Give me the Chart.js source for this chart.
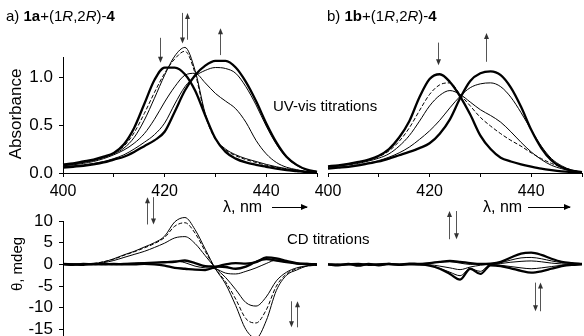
<!DOCTYPE html>
<html>
<head>
<meta charset="utf-8">
<script src="https://cdn.jsdelivr.net/npm/chart.js@4.4.0/dist/chart.umd.min.js"></script>
<style>
  body { margin: 0; background: #fff; }
  #wrap { position: relative; width: 584px; height: 336px; overflow: hidden; font-family: Arial, "Liberation Sans", sans-serif; }
  #wrap canvas { position: absolute; left: 0; top: 0; }
  .lbl { position: absolute; font-size: 15px; color: #000; white-space: nowrap; line-height: 1; }
  .rot { transform: translate(-50%, -50%) rotate(-90deg); }
  .arr { position: absolute; height: 1px; background: #000; }
  .arr:after { content: ""; position: absolute; right: -1px; top: -3px; border-left: 7px solid #000; border-top: 3.5px solid transparent; border-bottom: 3.5px solid transparent; }
</style>
</head>
<body>
<div id="wrap">
  <canvas id="uv_a" width="584" height="336"></canvas>
  <canvas id="uv_b" width="584" height="336"></canvas>
  <canvas id="cd_a" width="584" height="336"></canvas>
  <canvas id="cd_b" width="584" height="336"></canvas>

  <div class="lbl" style="left:6px;top:8px">a) <b>1a</b>+(1<i>R</i>,2<i>R</i>)-<b>4</b></div>
  <div class="lbl" style="left:327px;top:8px">b) <b>1b</b>+(1<i>R</i>,2<i>R</i>)-<b>4</b></div>
  <div class="lbl" style="left:273px;top:98px">UV-vis titrations</div>
  <div class="lbl" style="left:287px;top:231px">CD titrations</div>
  <div class="lbl" style="left:223px;top:199px;font-size:16px">λ, nm</div>
  <div class="arr" style="left:272px;top:207px;width:35px"></div>
  <div class="lbl" style="left:483px;top:199px;font-size:16px">λ, nm</div>
  <div class="arr" style="left:528px;top:207px;width:42px"></div>
  <div class="lbl rot" style="left:15px;top:114px;font-size:17px">Absorbance</div>
  <div class="lbl rot" style="left:16px;top:264px;font-size:15px">θ, mdeg</div>
</div>

<script>
// wavelengths, nm
const wl = [400, 402, 404, 406, 408, 410, 412, 414, 416, 418, 420, 422, 424, 426, 428, 430, 432, 434, 436, 438, 440, 442, 444, 446, 448, 450]

// a) UV-vis absorbance
const uvA1 = [0.09, 0.10, 0.12, 0.14, 0.17, 0.21, 0.30, 0.47, 0.72, 0.97, 1.10, 1.10, 1.03, 0.86, 0.60, 0.36, 0.22, 0.15, 0.11, 0.085, 0.065, 0.045, 0.03, 0.02, 0.01, 0.005]
const uvB1 = [0.08, 0.09, 0.11, 0.13, 0.16, 0.20, 0.26, 0.37, 0.55, 0.78, 1.02, 1.22, 1.31, 1.07, 0.62, 0.36, 0.25, 0.19, 0.15, 0.12, 0.09, 0.065, 0.045, 0.03, 0.015, 0.005]
const uvC1 = [0.085, 0.095, 0.115, 0.135, 0.165, 0.21, 0.28, 0.42, 0.62, 0.84, 1.04, 1.19, 1.27, 1.04, 0.60, 0.35, 0.24, 0.18, 0.14, 0.11, 0.08, 0.06, 0.04, 0.025, 0.012, 0.005]
const uvD1 = [0.075, 0.085, 0.10, 0.12, 0.15, 0.19, 0.24, 0.31, 0.41, 0.56, 0.74, 0.90, 1.02, 1.04, 0.94, 0.83, 0.75, 0.67, 0.53, 0.34, 0.20, 0.11, 0.06, 0.035, 0.015, 0.005]
const uvE1 = [0.065, 0.075, 0.085, 0.10, 0.12, 0.15, 0.19, 0.25, 0.32, 0.40, 0.52, 0.72, 0.90, 1.01, 1.07, 1.10, 1.09, 1.04, 0.90, 0.71, 0.49, 0.30, 0.16, 0.08, 0.03, 0.01]
const uvF1 = [0.055, 0.065, 0.075, 0.09, 0.11, 0.14, 0.17, 0.22, 0.28, 0.34, 0.43, 0.64, 0.86, 1.02, 1.12, 1.17, 1.17, 1.10, 0.95, 0.75, 0.52, 0.32, 0.17, 0.085, 0.035, 0.012]

// b) UV-vis absorbance
const uvA2 = [0.07, 0.08, 0.095, 0.115, 0.14, 0.18, 0.25, 0.37, 0.54, 0.79, 0.98, 1.03, 0.95, 0.80, 0.61, 0.39, 0.25, 0.16, 0.12, 0.09, 0.066, 0.045, 0.03, 0.018, 0.01, 0.004]
const uvB2 = [0.065, 0.075, 0.09, 0.11, 0.135, 0.17, 0.23, 0.33, 0.47, 0.65, 0.82, 0.92, 0.94, 0.82, 0.70, 0.58, 0.49, 0.41, 0.34, 0.28, 0.21, 0.15, 0.10, 0.06, 0.03, 0.01]
const uvC2 = [0.06, 0.07, 0.085, 0.10, 0.125, 0.155, 0.20, 0.28, 0.39, 0.54, 0.70, 0.81, 0.86, 0.82, 0.74, 0.66, 0.60, 0.53, 0.43, 0.32, 0.22, 0.14, 0.08, 0.045, 0.02, 0.008]
const uvE2 = [0.05, 0.06, 0.07, 0.085, 0.105, 0.13, 0.165, 0.21, 0.27, 0.35, 0.44, 0.55, 0.68, 0.80, 0.89, 0.93, 0.94, 0.90, 0.79, 0.63, 0.45, 0.28, 0.15, 0.075, 0.03, 0.01]
const uvF2 = [0.045, 0.055, 0.065, 0.08, 0.10, 0.12, 0.15, 0.185, 0.22, 0.26, 0.31, 0.41, 0.56, 0.78, 0.96, 1.04, 1.06, 1.02, 0.89, 0.69, 0.45, 0.26, 0.13, 0.06, 0.025, 0.01]

// a) CD, mdeg
const cdA1 = [0, 0.1, 0, 0.2, 0.6, 1.3, 2.2, 3.0, 4.0, 5.0, 6.5, 9.8, 10.8, 8.0, 3.5, -1.0, -4.5, -9.5, -15.0, -17.0, -13.0, -6.0, -2.5, -1.3, -0.4, -0.2]
const cdB1 = [0, 0, 0.1, 0.2, 0.6, 1.2, 2.1, 2.9, 3.8, 4.8, 6.2, 8.8, 9.6, 7.2, 3.0, -1.0, -4.0, -8.0, -12.5, -13.5, -10.5, -5.0, -2.2, -1.0, -0.4, -0.2]
const cdC1 = [0, 0, 0.1, 0.1, 0.4, 0.9, 1.6, 2.3, 3.0, 3.9, 4.9, 6.1, 6.4, 4.8, 2.0, -0.8, -3.0, -5.8, -8.8, -9.6, -7.5, -3.8, -1.8, -0.8, -0.3, -0.1]
const cdD1 = [0, -0.1, 0.1, 0, 0.1, 0, 0.1, 0.2, 0.3, 0.4, 0.5, 0.6, 0.9, 0.3, -0.4, -0.5, -0.6, -1.0, -0.5, 0.6, 1.2, 0.9, 0.5, 0.2, 0.1, 0]
const cdE1 = [0.1, 0, -0.1, 0.1, 0, 0.1, 0, 0, 0.1, 0, -0.3, -0.8, -1.0, -1.2, -1.3, -0.6, 0, 0.3, 0.2, 0.5, 1.6, 1.4, 0.8, 0.3, 0.1, 0]
const cdF1 = [0, 0.1, 0, 0, 0.1, 0.1, 0.2, 0.3, 0.4, 0.4, 0.6, 0.8, 0.4, -0.4, -0.8, -1.0, -2.0, -2.2, -1.6, -0.8, 0.2, 1.0, 0.6, 0.2, 0.1, 0]

// b) CD, mdeg
const cdA2 = [0, -0.2, 0.1, -0.3, 0.1, -0.2, 0.1, -0.1, 0.2, 0.1, 0.3, 0.6, 0.8, 0.6, 0.3, 0.1, 0.2, 0.6, 1.6, 2.5, 2.7, 2.2, 1.3, 0.6, 0.3, 0.1]
const cdB2 = [0, -0.1, 0, -0.2, 0, -0.1, 0, 0.1, 0.1, 0.2, 0.3, 0.5, 0.6, 0.3, 0, 0.1, 0.1, 0.4, 1.0, 1.5, 1.6, 1.3, 0.8, 0.4, 0.2, 0]
const cdC2 = [0, 0.1, -0.1, 0, 0.1, -0.1, 0, 0, 0, -0.1, -0.1, -0.4, -0.8, -1.2, -0.6, -0.2, 0, 0.2, 0.5, 0.7, 0.8, 0.6, 0.3, 0.1, 0, 0]
const cdD2 = [0, 0, 0.1, -0.1, 0, 0.1, -0.1, 0, 0, -0.1, -0.3, -0.9, -1.8, -2.6, -1.0, -1.6, 0, -0.2, -0.5, -0.8, -1.0, -0.8, -0.5, -0.2, 0, 0]
const cdE2 = [0, -0.1, 0, 0.1, -0.1, 0, 0.1, -0.1, 0, 0, -0.3, -1.0, -2.2, -3.5, -1.0, -2.2, -0.2, -0.4, -0.9, -1.5, -1.9, -1.6, -1.0, -0.4, -0.1, 0]

// titration arrows: [wavelength, from, to]
const arrowsUvA = [[419, 1.41, 1.15], [423.4, 1.67, 1.35], [424.4, 1.39, 1.67], [431, 1.23, 1.51]]
const arrowsUvB = [[421.7, 1.36, 1.125], [431.2, 1.16, 1.46]]
const arrowsCdA = [[416.5, 9.2, 15.5], [417.7, 15.5, 9.2], [444.9, -8.5, -14.5], [446.1, -14.5, -8.5]]
const arrowsCdB = [[423.9, 5.8, 12.3], [425.1, 12.3, 5.8], [440.7, -4.2, -10.8], [441.7, -10.8, -4.2]]

const uvTicks = [0, 0.5, 1.0]
const cdTicks = [-15, -10, -5, 0, 5, 10]
const xLabels = [400, 420, 440]

const FONT = "Arial, 'Liberation Sans', sans-serif"

const arrowPlugin = {
  id: 'arrows',
  afterDatasetsDraw(chart, args, opts) {
    const ctx = chart.ctx, xs = chart.scales.x, ys = chart.scales.y;
    ctx.save();
    ctx.strokeStyle = '#555';
    ctx.fillStyle = '#333';
    ctx.lineWidth = 1;
    (opts.list || []).forEach(a => {
      const x = Math.round(xs.getPixelForValue(a[0])) + 0.5
      const y0 = ys.getPixelForValue(a[1]), y1 = ys.getPixelForValue(a[2])
      const dir = y1 > y0 ? 1 : -1
      ctx.beginPath(); ctx.moveTo(x, y0); ctx.lineTo(x, y1 - dir * 4); ctx.stroke()
      ctx.beginPath(); ctx.moveTo(x, y1); ctx.lineTo(x - 2.5, y1 - dir * 6); ctx.lineTo(x + 2.5, y1 - dir * 6); ctx.closePath(); ctx.fill()
    })
    ctx.restore()
  }
}

function pts(arr) {
  return wl.map((x, i) => ({ x: x, y: arr[i] }))
}

function line(arr, kind) {
  return {
    data: pts(arr),
    borderColor: '#000',
    borderWidth: kind == 'bold' ? 2.3 : 1,
    borderDash: kind == 'dash' ? [4, 2] : [],
    pointRadius: 0,
    cubicInterpolationMode: 'monotone',
    clip: false,
    fill: false
  }
}

function make_chart(id, datasets, opt) {
  new Chart(document.getElementById(id), {
    type: 'line',
    data: { datasets: datasets },
    plugins: [arrowPlugin],
    options: {
      responsive: false,
      animation: false,
      events: [],
      layout: { padding: opt.padding },
      plugins: { legend: { display: false }, tooltip: { enabled: false }, arrows: { list: opt.arrows } },
      scales: {
        x: {
          type: 'linear', min: 400, max: 450,
          display: opt.showX,
          afterFit: s => { s.height = opt.showX ? 40 : 0; s.paddingLeft = 0; s.paddingRight = 0 },
          grid: { drawOnChartArea: false, drawTicks: true, tickLength: 4, color: '#000' },
          border: { display: true, color: '#000', width: 1 },
          ticks: {
            stepSize: 10, padding: 5, color: '#000', maxRotation: 0, autoSkip: false,
            font: { family: FONT, size: 16 },
            callback: v => xLabels.includes(v) ? String(v) : ''
          }
        },
        y: {
          type: 'linear', min: opt.min, max: opt.max,
          display: opt.showY,
          afterFit: s => { s.width = opt.showY ? 63 : 0; s.paddingTop = 0; s.paddingBottom = 0 },
          afterBuildTicks: s => { s.ticks = opt.ticks.map(v => ({ value: v })) },
          grid: { drawOnChartArea: false, drawTicks: true, tickLength: 4, color: '#000' },
          border: { display: true, color: '#000', width: 1 },
          ticks: {
            padding: 6, color: '#000', autoSkip: false,
            font: { family: FONT, size: 17 },
            callback: v => opt.fmt(v)
          }
        }
      }
    }
  })
}

make_chart('uv_a', [line(uvA1, 'bold'), line(uvB1), line(uvC1, 'dash'), line(uvD1), line(uvE1), line(uvF1, 'bold')], {
  padding: { left: 0, right: 267, top: 57, bottom: 123 },
  showX: true, showY: true, min: 0, max: 1.21, ticks: uvTicks,
  fmt: v => v.toFixed(1), arrows: arrowsUvA
})

make_chart('uv_b', [line(uvA2, 'bold'), line(uvB2, 'dash'), line(uvC2), line(uvE2), line(uvF2, 'bold')], {
  padding: { left: 328, right: 2, top: 57, bottom: 123 },
  showX: true, showY: false, min: 0, max: 1.21, ticks: uvTicks,
  fmt: v => v.toFixed(1), arrows: arrowsUvB
})

make_chart('cd_a', [line(cdA1), line(cdB1, 'dash'), line(cdC1), line(cdD1, 'bold'), line(cdE1, 'bold'), line(cdF1)], {
  padding: { left: 0, right: 267, top: 221, bottom: 0 },
  showX: false, showY: true, min: -16.5, max: 10, ticks: cdTicks,
  fmt: v => String(v), arrows: arrowsCdA
})

make_chart('cd_b', [line(cdA2, 'bold'), line(cdB2), line(cdC2), line(cdD2), line(cdE2, 'bold')], {
  padding: { left: 328, right: 2, top: 221, bottom: 0 },
  showX: false, showY: false, min: -16.5, max: 10, ticks: cdTicks,
  fmt: v => String(v), arrows: arrowsCdB
})
</script>
</body>
</html>
